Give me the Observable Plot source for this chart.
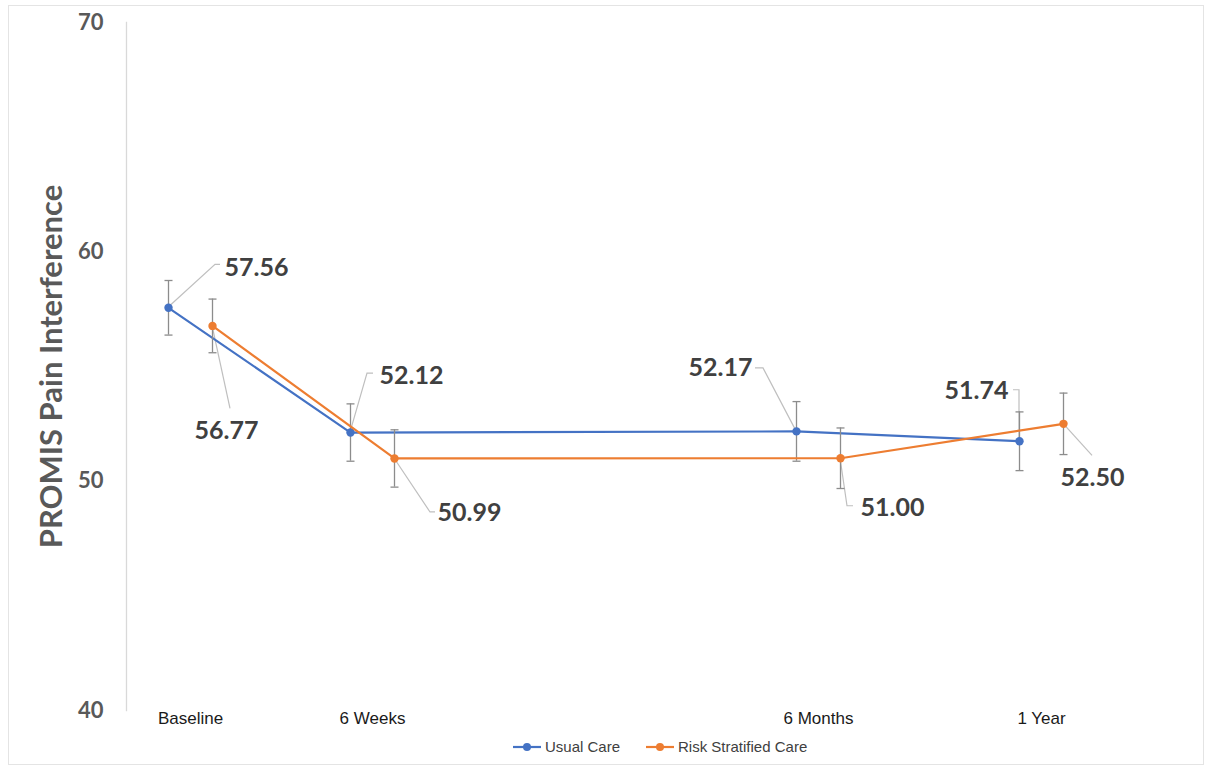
<!DOCTYPE html>
<html>
<head>
<meta charset="utf-8">
<script src="https://cdn.jsdelivr.net/npm/d3@7"></script>
<script src="https://cdn.jsdelivr.net/npm/@observablehq/plot@0.6"></script>
<style>
  body { margin: 0; background: #fff; }
  #chart { position: relative; width: 1209px; height: 769px; overflow: hidden; }
  #border { position: absolute; left: 8px; top: 5px; width: 1196px; height: 760px; border: 1px solid #e4e4e4; box-sizing: border-box; pointer-events: none; }
  #legend { position: absolute; left: 513px; top: 738px; display: flex; align-items: center; gap: 26px;
            font-family: "Liberation Sans", Arial, sans-serif; font-size: 15px; color: #404040; }
  #legend .item { display: flex; align-items: center; gap: 4px; }
  #legend svg { display: block; }
</style>
</head>
<body>
<div id="chart"><div id="border"></div></div>
<script>
// PROMIS Pain Interference means by visit, with error margins
const visits = ["Baseline", "6 Weeks", "6 Months", "1 Year"];
const seriesNames = ["Usual Care", "Risk Stratified Care"];
const usualCare = [57.56, 52.12, 52.17, 51.74];
const riskStratified = [56.77, 50.99, 51.00, 52.50];
const usualCareErr = [1.19, 1.25, 1.30, 1.28];
const riskStratifiedErr = [1.17, 1.25, 1.32, 1.34];
const yTicks = [40, 50, 60, 70];

const colors = { "Usual Care": "#4472C4", "Risk Stratified Care": "#ED7D31" };
const dodge = { "Usual Care": -22, "Risk Stratified Care": 22 };
const errColor = "#8c8c8c";
const leaderColor = "#bfbfbf";
const labelFont = "Lato, 'Open Sans', sans-serif";

const rowsFor = (name, values, errs) =>
  values.map((value, visit) => ({ series: name, visit, value, err: errs[visit] }));
const rows = {
  "Usual Care": rowsFor(seriesNames[0], usualCare, usualCareErr),
  "Risk Stratified Care": rowsFor(seriesNames[1], riskStratified, riskStratifiedErr)
};

// Callout placement relative to each point (pixels): leader path and label anchor
const callouts = {
  "Usual Care": [
    { path: [[47, -43], [52, -43]], text: [56, -40], anchor: "start" },
    { path: [[17, -59], [23, -59]], text: [29, -57], anchor: "start" },
    { path: [[-33, -63], [-41, -63]], text: [-44, -63], anchor: "end" },
    { path: [[0, -51], [-6, -51]], text: [-11, -50], anchor: "end" }
  ],
  "Risk Stratified Care": [
    { path: [[18, 83]], text: [14, 105], anchor: "middle" },
    { path: [[36, 54], [41, 54]], text: [43, 55], anchor: "start" },
    { path: [[7, 48], [13, 48]], text: [20, 50], anchor: "start" },
    { path: [[29, 32]], text: [29, 54], anchor: "middle" }
  ]
};

// Horizontal cap for error bars
const cap = { draw(ctx, size) { const w = Math.sqrt(size / Math.PI); ctx.moveTo(-w, 0); ctx.lineTo(w, 0); } };

function leaders(name) {
  return (index, scales) => {
    const g = d3.create("svg:g").attr("fill", "none").attr("stroke", leaderColor).attr("stroke-width", 1.2);
    for (const d of rows[name]) {
      const px = scales.x(d.visit) + dodge[name], py = scales.y(d.value);
      const pts = [[px, py], ...callouts[name][d.visit].path.map(([a, b]) => [px + a, py + b])];
      g.append("path").attr("d", d3.line()(pts));
    }
    return g.node();
  };
}

function seriesMarks(name) {
  const data = rows[name], dx = dodge[name];
  return [
    Plot.ruleX(data, { x: "visit", y1: d => d.value - d.err, y2: d => d.value + d.err, dx, stroke: errColor, strokeWidth: 1.3 }),
    Plot.dot(data, { x: "visit", y: d => d.value + d.err, dx, symbol: cap, r: 4, stroke: errColor, strokeWidth: 1.3 }),
    Plot.dot(data, { x: "visit", y: d => d.value - d.err, dx, symbol: cap, r: 4, stroke: errColor, strokeWidth: 1.3 }),
    Plot.line(data, { x: "visit", y: "value", dx, stroke: colors[name], strokeWidth: 2.2 }),
    Plot.dot(data, { x: "visit", y: "value", dx, r: 4.2, fill: colors[name] })
  ];
}

function labelMarks(name) {
  return rows[name].map(d => {
    const c = callouts[name][d.visit];
    return Plot.text([d], {
      x: "visit", y: "value", text: r => r.value.toFixed(2),
      dx: dodge[name] + c.text[0], dy: c.text[1], textAnchor: c.anchor,
      fontFamily: labelFont, fontWeight: 700, fontSize: 25, fill: "#404040"
    });
  });
}

const chart = Plot.plot({
  width: 1209,
  height: 735,
  marginTop: 22,
  marginBottom: 25,
  marginLeft: 126,
  marginRight: 100,
  style: { background: "transparent", overflow: "visible" },
  x: { type: "linear", domain: [0, 1, 2, 3], range: [190, 372, 818, 1041] },
  y: { domain: [40, 70] },
  marks: [
    Plot.frame({ anchor: "left", stroke: "#d9d9d9", strokeWidth: 1.3 }),
    Plot.axisY({ ticks: yTicks, tickSize: 0, tickPadding: 23, label: null,
      fontFamily: labelFont, fontWeight: 700, fontSize: 22, fill: "#595959" }),
    Plot.axisX({ ticks: [0, 1, 2, 3], tickFormat: i => visits[i], tickSize: 0, tickPadding: 1, label: null,
      fontFamily: "'Liberation Sans', Arial, sans-serif", fontSize: 17, fill: "#1a1a1a" }),
    Plot.text(["PROMIS Pain Interference"], {
      frameAnchor: "left", dx: -74, text: d => d, rotate: -90, textAnchor: "middle",
      fontFamily: labelFont, fontWeight: 700, fontSize: 31, fill: "#595959"
    }),
    leaders(seriesNames[0]),
    leaders(seriesNames[1]),
    ...seriesMarks(seriesNames[0]),
    ...seriesMarks(seriesNames[1]),
    ...labelMarks(seriesNames[0]),
    ...labelMarks(seriesNames[1])
  ]
});

const host = document.getElementById("chart");
host.insertBefore(chart, host.firstChild);

// Legend below the plot
const legend = d3.select(host).append("div").attr("id", "legend");
for (const name of seriesNames) {
  const item = legend.append("div").attr("class", "item");
  const s = item.append("svg").attr("width", 28).attr("height", 10);
  s.append("line").attr("x1", 0).attr("x2", 28).attr("y1", 5).attr("y2", 5)
    .attr("stroke", colors[name]).attr("stroke-width", 2.2);
  s.append("circle").attr("cx", 14).attr("cy", 5).attr("r", 4).attr("fill", colors[name]);
  item.append("span").text(name);
}
</script>
</body>
</html>
